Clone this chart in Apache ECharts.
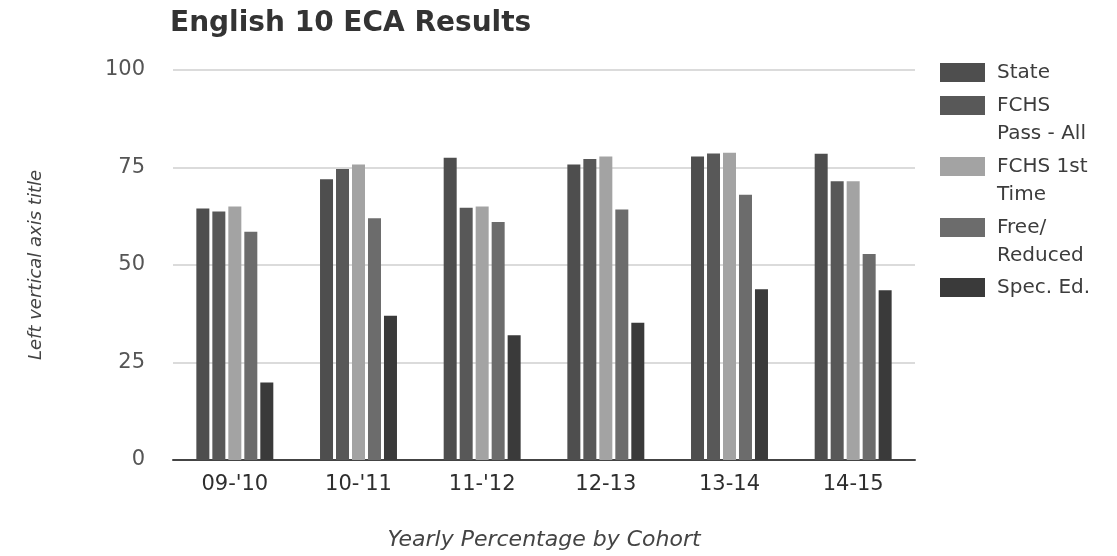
<!DOCTYPE html>
<html>
<head>
<meta charset="utf-8">
<script src="https://cdn.jsdelivr.net/npm/echarts@6/dist/echarts.min.js"></script>
<style>html,body{margin:0;padding:0;background:#fff;}#c{width:1117px;height:556px;}</style>
</head>
<body>
<div id="c"></div>
<script>
const categories = ["09-'10", "10-'11", "11-'12", "12-13", "13-14", "14-15"];
const seriesNames = ["State", "FCHS Pass - All", "FCHS 1st Time", "Free/ Reduced", "Spec. Ed."];
const legendLabels = ["State", "FCHS\nPass - All", "FCHS 1st\nTime", "Free/\nReduced", "Spec. Ed."];
const stateVals = [64.5, 72, 77.5, 75.8, 77.8, 78.5];
const passAllVals = [63.7, 74.6, 64.7, 77.2, 78.6, 71.5];
const firstTimeVals = [65, 75.8, 65, 77.8, 78.8, 71.5];
const freeVals = [58.5, 62, 61, 64.2, 68, 52.8];
const specVals = [19.9, 37, 32, 35.2, 43.8, 43.5];
const yTicks = [0, 25, 50, 75, 100];
const colors = ["#4e4e4e", "#585858", "#a3a3a3", "#6c6c6c", "#3a3a3a"];

const allVals = [stateVals, passAllVals, firstTimeVals, freeVals, specVals];
const iconTops = [63, 96, 157, 218, 278];

const chart = echarts.init(document.getElementById('c'), null, {renderer: 'canvas'});
const font = "'DejaVu Sans', sans-serif";
chart.setOption({
  backgroundColor: '#fff',
  animation: false,
  title: {
    text: 'English 10 ECA Results',
    left: 170, top: 10, padding: 0,
    textStyle: {fontFamily: font, fontWeight: 'bold', fontSize: 28, color: '#333'}
  },
  legend: seriesNames.map((n, i) => {
    const multi = legendLabels[i].indexOf('\n') >= 0;
    return {
      orient: 'vertical',
      left: 940, top: iconTops[i] - (multi ? 32.5 : 4.5),
      padding: 0,
      itemWidth: 45, itemHeight: 19,
      icon: 'rect',
      data: [n],
      formatter: () => (multi ? '\n' : '') + legendLabels[i],
      textStyle: {fontFamily: font, fontSize: 20, color: '#3c3c3c', lineHeight: 28, padding: [0, 0, 0, 7]}
    };
  }),
  grid: {left: 173, right: 202, top: 70, bottom: 91, containLabel: false},
  xAxis: {
    type: 'category',
    data: categories,
    axisTick: {show: false},
    axisLine: {lineStyle: {color: '#444', width: 2}},
    axisLabel: {fontFamily: font, fontSize: 21, color: '#2e2e2e', margin: 14},
    name: 'Yearly Percentage by Cohort',
    nameLocation: 'middle',
    nameGap: 69,
    nameTextStyle: {fontFamily: font, fontSize: 22, fontStyle: 'italic', color: '#444'}
  },
  yAxis: {
    type: 'value',
    min: yTicks[0], max: yTicks[yTicks.length - 1], interval: 25,
    axisLine: {show: false},
    axisTick: {show: false},
    splitLine: {lineStyle: {color: '#cfcfcf', width: 1.5}},
    axisLabel: {fontFamily: font, fontSize: 21, color: '#555', margin: 28},
    name: 'Left vertical axis title',
    nameLocation: 'middle',
    nameGap: 128,
    nameTextStyle: {fontFamily: font, fontSize: 18, fontStyle: 'italic', color: '#444'}
  },
  series: seriesNames.map((n, i) => ({
    name: n,
    type: 'bar',
    data: allVals[i],
    barWidth: 13,
    barGap: '23%',
    itemStyle: {color: colors[i]}
  }))
});
</script>
</body>
</html>
